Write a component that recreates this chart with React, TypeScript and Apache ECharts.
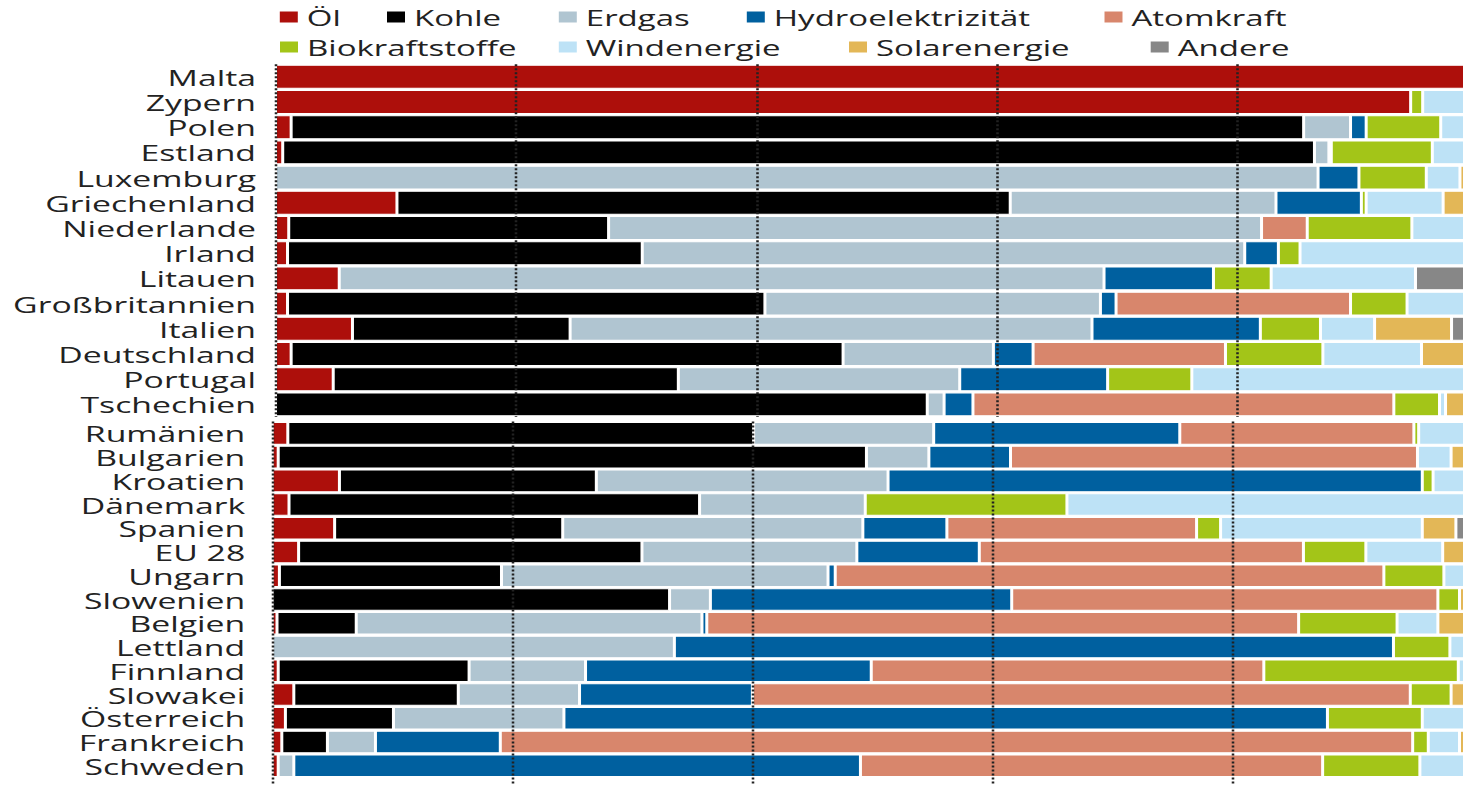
import React, { useEffect, useRef } from "react";
import * as echarts from "echarts";

// ---------- data (share of electricity production, %) ----------
const countriesTop = [
  "Malta", "Zypern", "Polen", "Estland", "Luxemburg", "Griechenland", "Niederlande",
  "Irland", "Litauen", "Großbritannien", "Italien", "Deutschland", "Portugal", "Tschechien",
];
const countriesBottom = [
  "Rumänien", "Bulgarien", "Kroatien", "Dänemark", "Spanien", "EU 28", "Ungarn", "Slowenien",
  "Belgien", "Lettland", "Finnland", "Slowakei", "Österreich", "Frankreich", "Schweden",
];

// values: countriesTop first, then countriesBottom
const oel = [
  100, 94.4, 1.3, 0.6, 0, 10.1, 1.1, 1.0, 5.3, 1.0, 6.4, 1.3, 4.8, 0,
  1.3, 0.5, 5.6, 1.4, 5.2, 2.2, 0.6, 0, 0.4, 0, 0.5, 1.8, 1.1, 0.8, 0.5,
];
const kohle = [
  0, 0, 84.2, 85.8, 0, 51.0, 26.6, 29.5, 0, 39.7, 18.1, 45.9, 28.7, 54.2,
  38.8, 49.0, 21.4, 34.2, 19.0, 28.6, 18.5, 33.1, 6.6, 0, 15.9, 13.7, 9.0, 3.8, 0,
];
const erdgas = [
  0, 0, 3.9, 1.2, 86.7, 22.1, 54.3, 50.1, 63.6, 27.9, 43.4, 12.5, 23.4, 1.4,
  15.0, 5.2, 24.3, 13.8, 25.0, 17.9, 27.2, 3.4, 28.8, 33.5, 9.7, 10.1, 14.2, 4.0, 1.3,
];
const hydro = [
  0, 0, 1.3, 0.2, 3.4, 7.1, 0, 2.8, 9.1, 1.3, 14.0, 3.3, 12.3, 2.4,
  20.5, 6.8, 44.5, 0, 7.0, 10.2, 0.6, 25.1, 0.4, 59.9, 23.8, 14.4, 63.6, 10.4, 47.2,
];
const atom = [
  0, 0, 0, 0, 0, 0, 3.8, 0, 0, 19.5, 0, 16.0, 0, 35.0,
  19.5, 33.9, 0, 0, 20.8, 27.0, 45.7, 35.5, 49.3, 0, 32.7, 54.8, 0, 76.0, 38.5,
];
const bio = [
  0, 1.0, 6.2, 8.4, 5.6, 0.4, 8.7, 1.8, 4.8, 4.7, 5.0, 8.1, 7.0, 3.8,
  0.4, 0, 0.9, 16.8, 2.0, 5.2, 5.0, 1.8, 8.2, 4.7, 16.2, 3.4, 7.9, 1.3, 8.1,
];
const wind = [
  0, 4.6, 3.1, 3.8, 2.8, 6.4, 5.5, 14.8, 12.0, 5.9, 4.5, 8.2, 23.8, 0.5,
  4.5, 2.8, 3.3, 33.8, 16.8, 6.4, 2.4, 0, 3.4, 1.9, 1.2, 0, 4.2, 2.6, 4.4,
];
const solar = [
  0, 0, 0, 0, 1.5, 2.9, 0, 0, 0, 0, 6.4, 4.7, 0, 2.7,
  0, 1.8, 0, 0, 2.8, 2.5, 0, 1.1, 2.9, 0, 0, 1.8, 0, 1.1, 0,
];
const andere = [
  0, 0, 0, 0, 0, 0, 0, 0, 5.2, 0, 2.2, 0, 0, 0,
  0, 0, 0, 0, 1.4, 0, 0, 0, 0, 0, 0, 0, 0, 0, 0,
];

const sourceNames = [
  "Öl", "Kohle", "Erdgas", "Hydroelektrizität", "Atomkraft",
  "Biokraftstoffe", "Windenergie", "Solarenergie", "Andere",
];
const sourceValues = [oel, kohle, erdgas, hydro, atom, bio, wind, solar, andere];
const sourceColors = [
  "#ad0f0b", "#000000", "#b0c5d1", "#00609f", "#d8866c",
  "#a3c518", "#bde2f6", "#e3b757", "#878787",
];
const xTicks = { min: 0, max: 100, interval: 20 };

// ---------- layout (the original graphic is stretched horizontally) ----------
const SX = 1.5;
const CHART_W = 1000; // unscaled width, wider than the visible page so the grid is not clamped
const legendPos: [number, number][] = [
  [276.8, 6], [384, 6], [555.8, 6], [743.8, 6], [1101.5, 6],
  [277, 36], [555.8, 36], [846, 36], [1147.7, 36],
];

export default function App() {
  const ref = useRef<HTMLDivElement>(null);

  useEffect(() => {
    document.body.style.margin = "0";
    document.body.style.overflow = "hidden";
    if (!ref.current) return;
    const chart = echarts.init(ref.current, null, { renderer: "svg" });

    const nTop = countriesTop.length;
    const font = "'Open Sans', 'Noto Sans', sans-serif";

    const series: any[] = [];
    sourceNames.forEach((name, i) => {
      [0, 1].forEach((g) => {
        const vals = g === 0 ? sourceValues[i].slice(0, nTop) : sourceValues[i].slice(nTop);
        series.push({
          type: "bar",
          name,
          xAxisIndex: g,
          yAxisIndex: g,
          stack: "s" + g,
          barCategoryGap: "5%",
          data: vals.map((v) => (v > 0 ? v : null)),
          itemStyle: { color: sourceColors[i], borderColor: "#ffffff", borderWidth: 1 },
          emphasis: { disabled: true },
        });
      });
    });

    const xAxisBase = (g: number) => ({
      type: "value",
      gridIndex: g,
      ...xTicks,
      z: 5,
      axisLabel: { show: false },
      axisLine: { show: false },
      axisTick:
        g === 1
          ? { show: true, length: 8, lineStyle: { type: [2, 2], color: "#222", width: 1.7 } }
          : { show: false },
      splitLine: { show: true, lineStyle: { type: [2, 2], color: "#222", width: 1.7 } },
    });

    const yAxisBase = (g: number) => ({
      type: "category",
      gridIndex: g,
      inverse: true,
      data: g === 0 ? countriesTop : countriesBottom,
      axisLine: { show: false },
      axisTick: { show: false },
      axisLabel: {
        interval: 0,
        fontSize: 22.5,
        lineHeight: 22,
        fontFamily: font,
        color: "#222",
        margin: g === 0 ? 13 : 18,
      },
    });

    chart.setOption({
      animation: false,
      backgroundColor: "#ffffff",
      grid: [
        { left: 275.5 / SX, width: 1202.5 / SX, top: 64.2, height: 352.8 },
        { left: 272.2 / SX, width: 1200.5 / SX, top: 421.5, height: 356.1 },
      ],
      legend: sourceNames.map((name, i) => ({
        data: [name],
        left: legendPos[i][0] / SX,
        top: legendPos[i][1],
        padding: 0,
        icon: "rect",
        itemWidth: 14,
        itemHeight: 13,
        selectedMode: false,
        textStyle: { fontSize: 22, fontFamily: font, color: "#222" },
      })),
      xAxis: [xAxisBase(0), xAxisBase(1)],
      yAxis: [yAxisBase(0), yAxisBase(1)],
      series,
    });

    return () => chart.dispose();
  }, []);

  return (
    <div
      style={{
        position: "absolute",
        left: 0,
        top: 0,
        width: 1463,
        height: 785,
        overflow: "hidden",
        background: "#ffffff",
      }}
    >
      <div
        ref={ref}
        style={{
          position: "absolute",
          left: 0,
          top: 0,
          width: CHART_W,
          height: 785,
          transform: `scaleX(${SX})`,
          transformOrigin: "0 0",
        }}
      />
    </div>
  );
}
